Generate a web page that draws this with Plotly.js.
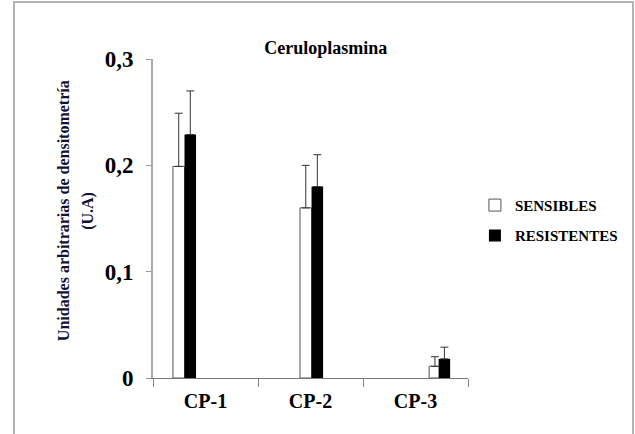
<!DOCTYPE html>
<html>
<head>
<meta charset="utf-8">
<script src="https://cdn.plot.ly/plotly-3.0.1.min.js"></script>
<style>
  html, body { margin: 0; padding: 0; background: #fff; }
  #wrap { position: relative; width: 635px; height: 434px; overflow: hidden; }
  #chart { position: absolute; left: 0; top: 0; width: 635px; height: 434px; }
  #frame { position: absolute; left: 13px; top: 1px; width: 617px; height: 480px;
           border: 2px solid #b3b3b3; border-bottom: none; pointer-events: none; }
</style>
</head>
<body>
<div id="wrap">
  <div id="chart"></div>
  <div id="frame"></div>
</div>
<script>
// ---- data ----
const categories = ['CP-1', 'CP-2', 'CP-3'];
const sensibles = [0.199, 0.16, 0.011];
const sensiblesErr = [0.05, 0.04, 0.009];
const resistentes = [0.229, 0.18, 0.018];
const resistentesErr = [0.041, 0.03, 0.011];
const yTickValues = [0, 0.1, 0.2, 0.3];
const yTickLabels = ['0', '0,1', '0,2', '0,3'];
const yTitleLines = ['Unidades arbitrarias de densitometría', '(U.A)'];

// ---- style ----
const serif = 'Liberation Serif';
const barWidth = 0.11;
const whiteOffsets = [-0.31, -0.10, 0.13];
const blackOffsets = [-0.20, 0.01, 0.22];
const yTitleX = [62, 87];

const errStyle = (arr) => ({
  type: 'data', array: arr, arrayminus: arr.map(() => 0), symmetric: false,
  color: '#333', thickness: 1, width: 4
});

const traces = [
  {
    type: 'bar', name: 'SENSIBLES', x: categories, y: sensibles,
    offset: whiteOffsets, width: categories.map(() => barWidth),
    marker: { color: '#ffffff', line: { color: '#555555', width: 1 } },
    error_y: errStyle(sensiblesErr), legendgroup: 'a'
  },
  {
    type: 'bar', name: 'RESISTENTES', x: categories, y: resistentes,
    offset: blackOffsets, width: categories.map(() => barWidth),
    marker: { color: '#000000', line: { color: '#000000', width: 0 } },
    error_y: errStyle(resistentesErr), legendgroup: 'b'
  }
];

const layout = {
  width: 635, height: 434,
  margin: { l: 153, r: 163, t: 59, b: 56, pad: 0 },
  paper_bgcolor: '#ffffff', plot_bgcolor: '#ffffff',
  barmode: 'overlay',
  showlegend: true,
  font: { family: serif },
  title: {
    text: 'Ceruloplasmina', xref: 'container', x: 0.513, xanchor: 'center',
    yref: 'container', y: 1 - 48 / 434, yanchor: 'middle',
    font: { family: serif, size: 18, color: '#000', weight: 'bold' }
  },
  xaxis: {
    type: 'category', range: [-0.5, 2.5], fixedrange: true,
    tickson: 'boundaries', ticks: 'outside', ticklen: 8, tickwidth: 1, tickcolor: '#888',
    showline: true, linecolor: '#777', linewidth: 1, showgrid: false, zeroline: false,
    ticklabelstandoff: 5,
    tickfont: { family: serif, size: 20, color: '#000', weight: 'bold' }
  },
  yaxis: {
    range: [0, 0.3], fixedrange: true,
    tickvals: yTickValues, ticktext: yTickLabels,
    ticks: 'outside', ticklen: 5, tickwidth: 1, tickcolor: '#999',
    showline: true, linecolor: '#aaaaaa', linewidth: 2, showgrid: false, zeroline: false,
    ticklabelstandoff: 8,
    tickfont: { family: serif, size: 23, color: '#000', weight: 'bold' }
  },
  legend: {
    x: 1.022, xanchor: 'left', y: 0.593, yanchor: 'top',
    bgcolor: 'rgba(0,0,0,0)', borderwidth: 0, tracegroupgap: 8,
    font: { family: serif, size: 15, color: '#000', weight: 'bold' }
  },
  annotations: yTitleLines.map((t, i) => ({
    text: t,
    xref: 'paper', yref: 'paper', x: (yTitleX[i] - 153) / 319, y: (378 - 211) / 319,
    xanchor: 'center', yanchor: 'middle', textangle: -90, showarrow: false,
    font: { family: serif, size: 16, color: '#111133', weight: 'bold' }
  }))
};

Plotly.newPlot('chart', traces, layout, { displayModeBar: false, staticPlot: true });
</script>
</body>
</html>
